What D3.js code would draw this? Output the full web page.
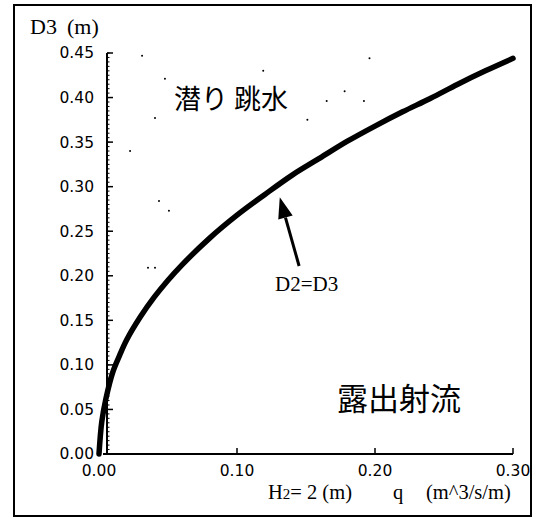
<!DOCTYPE html>
<html><head><meta charset="utf-8">
<script src="https://cdn.jsdelivr.net/npm/d3@7"></script>
<style>body{margin:0;background:#fff}svg{display:block}</style>
</head><body>
<svg id="c" width="543" height="519"></svg>
<script>
// Boundary curve D2 = D3 : discharge q (m^3/s/m) vs tailwater depth D3 (m)
const curveQ = [0, 0.002, 0.005, 0.01, 0.015, 0.02, 0.03, 0.04, 0.05, 0.06, 0.08, 0.10, 0.12, 0.14, 0.16, 0.18, 0.20, 0.22, 0.24, 0.26, 0.28, 0.30];
const curveD = [0, 0.036, 0.062, 0.092, 0.111, 0.128, 0.154, 0.176, 0.195, 0.212, 0.242, 0.268, 0.291, 0.313, 0.332, 0.351, 0.368, 0.384, 0.399, 0.415, 0.430, 0.444];
// scattered small points in the submerged region
const dotQ = [0.0312, 0.119, 0.196, 0.0478, 0.178, 0.165, 0.192, 0.0406, 0.151, 0.0225, 0.0435, 0.0507, 0.0355, 0.0406];
const dotD = [0.447, 0.430, 0.444, 0.421, 0.407, 0.396, 0.396, 0.377, 0.375, 0.340, 0.284, 0.273, 0.209, 0.209];
const yTicks = [0, 0.05, 0.10, 0.15, 0.20, 0.25, 0.30, 0.35, 0.40, 0.45];
const yTickLabels = ["0.00", "0.05", "0.10", "0.15", "0.20", "0.25", "0.30", "0.35", "0.40", "0.45"];
const xTicks = [0, 0.1, 0.2, 0.3];
const xTickLabels = ["0.00", "0.10", "0.20", "0.30"];

const svg = d3.select("#c");
const x = d3.scaleLinear().domain([0, 0.3]).range([99, 513]);
const y = d3.scaleLinear().domain([0, 0.45]).range([454, 53]);

// outer frame
svg.append("rect").attr("x", 14).attr("y", 5).attr("width", 517).attr("height", 511)
  .attr("fill", "none").attr("stroke", "#000").attr("stroke-width", 2);

const axX = 107;
// y axis
const ya = svg.append("g");
ya.append("line").attr("x1", axX).attr("x2", axX).attr("y1", y(0.45)).attr("y2", y(0))
  .attr("stroke", "#000").attr("stroke-width", 2);
const minor = d3.range(0, 0.4501, 0.005);
ya.selectAll("line.mn").data(minor).join("line").attr("class", "mn")
  .attr("x1", axX).attr("x2", axX + 2.5).attr("y1", d => y(d)).attr("y2", d => y(d))
  .attr("stroke", "#000").attr("stroke-width", 1);
ya.selectAll("line.mj").data(yTicks).join("line").attr("class", "mj")
  .attr("x1", axX).attr("x2", axX + 6).attr("y1", d => y(d)).attr("y2", d => y(d))
  .attr("stroke", "#000").attr("stroke-width", 1.5);
ya.selectAll("text").data(yTicks).join("text")
  .attr("x", 94).attr("y", d => y(d)).attr("dy", "0.35em").attr("text-anchor", "end")
  .attr("font-family", "DejaVu Sans").attr("font-size", 15.5).text((d, i) => yTickLabels[i]);

// x axis
const xa = svg.append("g");
xa.append("line").attr("x1", 103).attr("x2", x(0.3)).attr("y1", y(0)).attr("y2", y(0))
  .attr("stroke", "#000").attr("stroke-width", 2);
xa.selectAll("line.mj").data(xTicks.slice(1)).join("line").attr("class", "mj")
  .attr("x1", d => x(d)).attr("x2", d => x(d)).attr("y1", y(0)).attr("y2", y(0) - 6)
  .attr("stroke", "#000").attr("stroke-width", 1.5);
xa.selectAll("text").data(xTicks).join("text")
  .attr("x", d => x(d)).attr("y", 476).attr("text-anchor", "middle")
  .attr("font-family", "DejaVu Sans").attr("font-size", 15.5).text((d, i) => xTickLabels[i]);

// axis titles
const serif = "Liberation Serif";
svg.append("text").attr("x", 30).attr("y", 34).attr("font-family", serif).attr("font-size", 22).text("D3");
svg.append("text").attr("x", 67).attr("y", 34).attr("font-family", serif).attr("font-size", 22).text("(m)");
const xt = svg.append("text").attr("x", 268).attr("y", 499).attr("font-family", serif).attr("font-size", 20.5);
xt.append("tspan").text("H");
xt.append("tspan").attr("font-size", 15).text("2");
xt.append("tspan").text("= 2 (m)");
svg.append("text").attr("x", 393).attr("y", 499).attr("font-family", serif).attr("font-size", 20.5).text("q");
svg.append("text").attr("x", 426).attr("y", 499).attr("font-family", serif).attr("font-size", 20.5).text("(m^3/s/m)");

// dots
svg.selectAll("circle.dot").data(dotQ).join("circle").attr("class", "dot")
  .attr("cx", d => x(d)).attr("cy", (d, i) => y(dotD[i])).attr("r", 1).attr("fill", "#000");

// curve
const pts = curveQ.map((q, i) => [q, curveD[i]]);
svg.append("path").datum(pts)
  .attr("d", d3.line().x(d => x(d[0])).y(d => y(d[1])).curve(d3.curveCatmullRom))
  .attr("fill", "none").attr("stroke", "#000").attr("stroke-width", 5.5)
  .attr("stroke-linecap", "round").attr("stroke-linejoin", "round");

// arrow annotation
const tip = [x(0.131), y(0.288)], tail = [x(0.145), y(0.211)];
const ang = Math.atan2(tip[1] - tail[1], tip[0] - tail[0]);
const hl = 21, hw = 7.5;
const bx = tip[0] - hl * Math.cos(ang), by = tip[1] - hl * Math.sin(ang);
svg.append("line").attr("x1", tail[0]).attr("y1", tail[1]).attr("x2", bx).attr("y2", by)
  .attr("stroke", "#000").attr("stroke-width", 3);
svg.append("path").attr("d", `M${tip[0]},${tip[1]} L${bx + hw * Math.sin(ang)},${by - hw * Math.cos(ang)} L${bx - hw * Math.sin(ang)},${by + hw * Math.cos(ang)} Z`)
  .attr("fill", "#000");
svg.append("text").attr("x", 275).attr("y", 291).attr("font-family", serif).attr("font-size", 21).text("D2=D3");

// region labels
svg.append("text").attr("x", 174).attr("y", 109).attr("font-family", "Noto Sans CJK JP").attr("font-size", 27)
  .text("潜り 跳水");
svg.append("text").attr("x", 337).attr("y", 410).attr("font-family", "Noto Sans CJK JP").attr("font-size", 31)
  .text("露出射流");
</script>
</body></html>
